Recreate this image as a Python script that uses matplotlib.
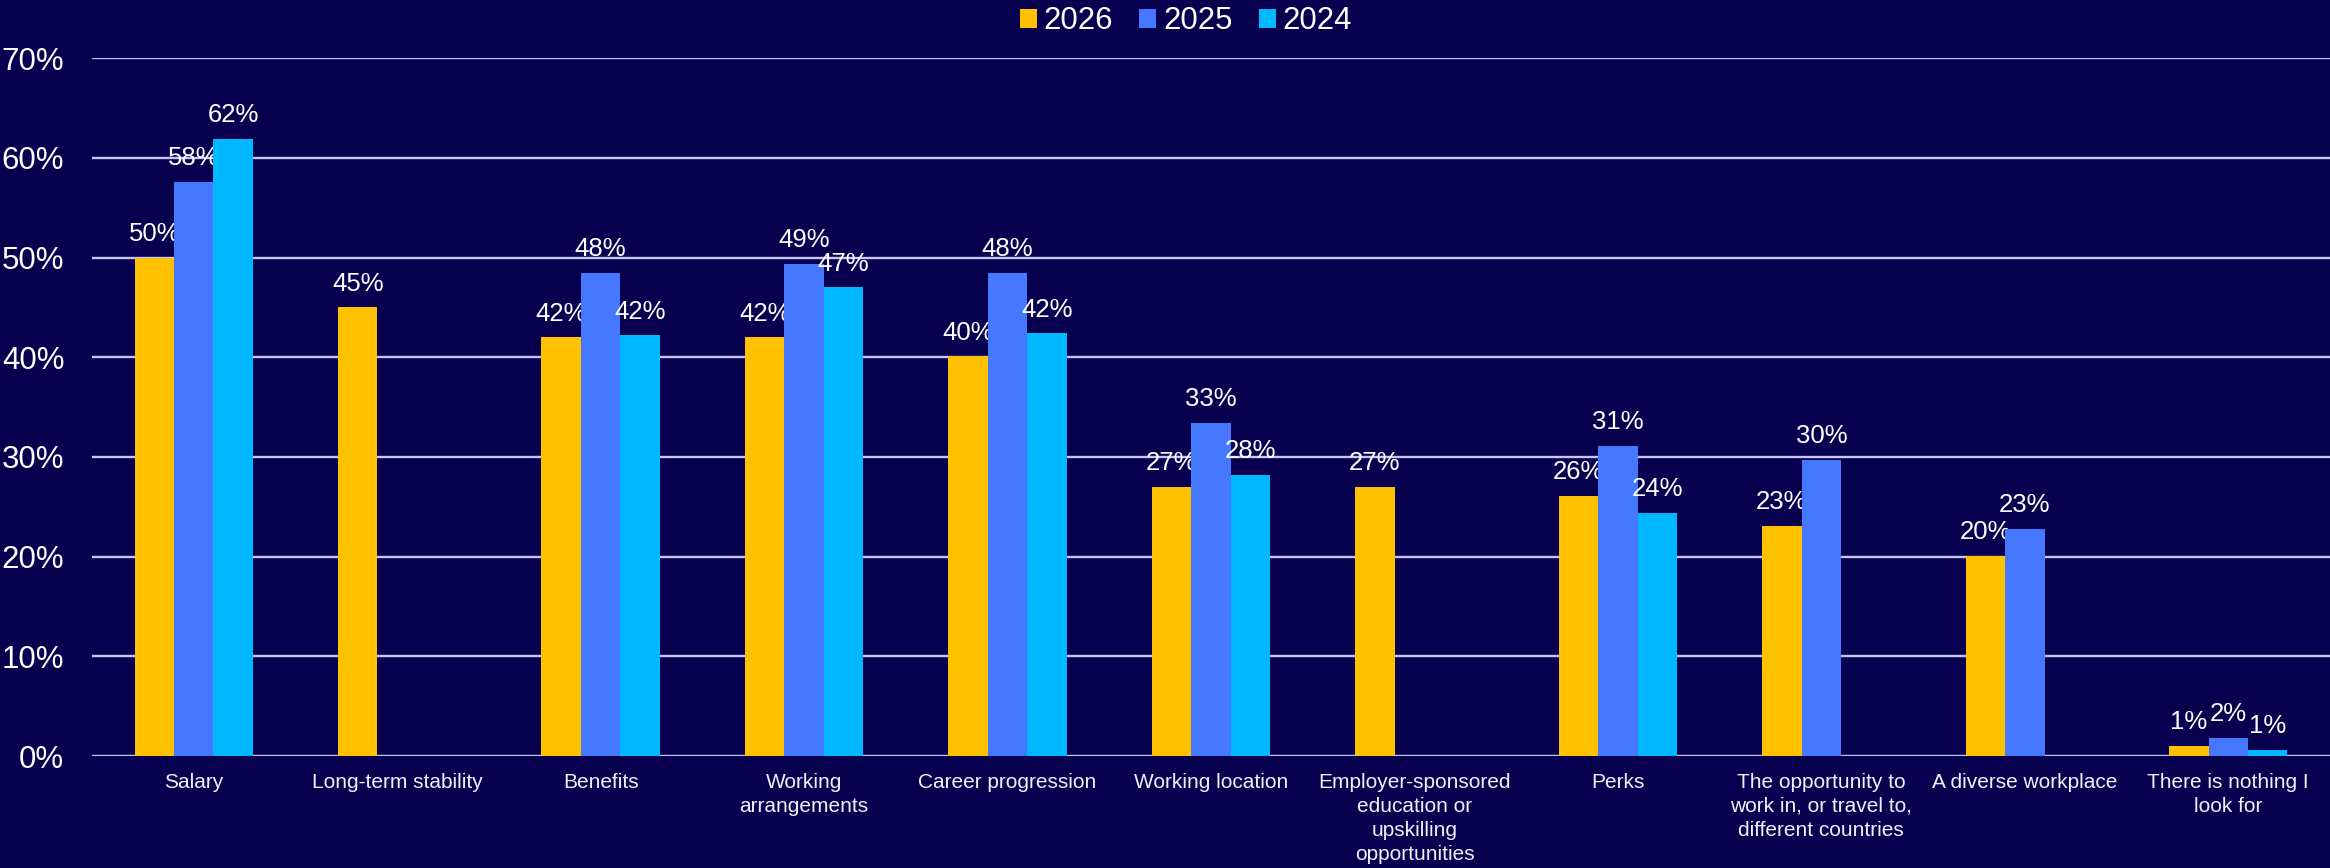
import numpy as np
import matplotlib.pyplot as plt

plt.rcParams['font.family'] = ['Liberation Sans', 'DejaVu Sans']

categories = [
    "Salary", "Long-term stability", "Benefits", "Working\narrangements",
    "Career progression", "Working location",
    "Employer-sponsored\neducation or\nupskilling\nopportunities",
    "Perks", "The opportunity to\nwork in, or travel to,\ndifferent countries",
    "A diverse workplace", "There is nothing I\nlook for",
]
series_names = ["2026", "2025", "2024"]
values_2026 = [50.0, 45.0, 42.0, 42.0, 40.1, 27.0, 27.0, 26.1, 23.1, 20.1, 1.0]
values_2025 = [57.6, np.nan, 48.5, 49.4, 48.5, 33.4, np.nan, 31.1, 29.7, 22.8, 1.8]
values_2024 = [61.9, np.nan, 42.2, 47.0, 42.4, 28.2, np.nan, 24.4, np.nan, np.nan, 0.6]
yticks = [0, 10, 20, 30, 40, 50, 60, 70]

bg = "#06004F"
colors = ["#FFC000", "#4677FF", "#00B8FF"]

fig = plt.figure(figsize=(23.3, 8.68), dpi=100, facecolor=bg)
ax = fig.add_axes([0.0395, 0.129, 0.9605, 0.804])
ax.set_facecolor(bg)

x = np.arange(len(categories))
width = 0.194
for i, (name, vals) in enumerate(zip(series_names, [values_2026, values_2025, values_2024])):
    vals = np.array(vals, dtype=float)
    pos = x + (i - 1) * width
    ax.bar(pos, np.nan_to_num(vals), width, color=colors[i], label=name, zorder=3)
    for p, v in zip(pos, vals):
        if np.isnan(v):
            continue
        ax.annotate(f"{v:.0f}%", (p, v), xytext=(0, 12), textcoords="offset points",
                    ha="center", va="baseline", color="white", fontsize=18.5)

ax.set_xlim(-0.5, len(categories) - 0.5)
ax.set_ylim(0, 70)
ax.set_yticks(yticks)
ax.set_yticklabels([f"{t}%" for t in yticks])
ax.set_xticks(x)
ax.set_xticklabels(categories, fontsize=15, color="#F0F0FA", linespacing=1.35)
ax.tick_params(axis="y", length=0, pad=20, labelsize=22.5, labelcolor="white")
ax.tick_params(axis="x", length=0, pad=12)
ax.yaxis.grid(True, color="#C8C4F6", linewidth=1.7, zorder=0)
for s in ax.spines.values():
    s.set_visible(False)

fig.legend(loc="upper center", bbox_to_anchor=(0.509, 1.018), ncol=3, frameon=False,
           fontsize=22.4, labelcolor="white", handlelength=0.55, handleheight=0.55,
           handletextpad=0.22, columnspacing=0.84, borderpad=0.2)

fig.savefig("out.png", facecolor=bg)
